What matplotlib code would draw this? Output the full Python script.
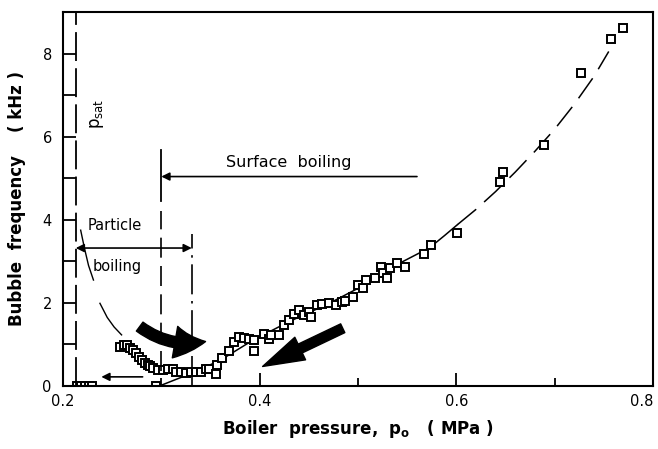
import matplotlib.pyplot as plt
from matplotlib.patches import FancyArrowPatch

# data
pressure = [0.214, 0.218, 0.222, 0.226, 0.230, 0.295,
            0.258, 0.262, 0.265, 0.268, 0.271, 0.274, 0.277, 0.280, 0.283, 0.286,
            0.289, 0.292, 0.297, 0.302, 0.307, 0.312, 0.315, 0.320, 0.325, 0.330,
            0.335, 0.340, 0.345, 0.349, 0.356, 0.357, 0.362, 0.369, 0.374, 0.379,
            0.384, 0.389, 0.394, 0.394, 0.404, 0.410, 0.412, 0.420, 0.425, 0.430,
            0.435, 0.440, 0.445, 0.450, 0.452, 0.458, 0.463, 0.471, 0.478, 0.484,
            0.487, 0.495, 0.500, 0.505, 0.508, 0.517, 0.523, 0.525, 0.530, 0.533,
            0.540, 0.548, 0.567, 0.574, 0.601, 0.644, 0.647, 0.689, 0.727, 0.757,
            0.769]
frequency = [0, 0, 0, 0, 0, 0,
             0.94, 0.99, 0.98, 0.92, 0.86, 0.79, 0.70, 0.63, 0.56, 0.51,
             0.47, 0.44, 0.38, 0.38, 0.40, 0.42, 0.34, 0.34, 0.32, 0.34,
             0.34, 0.34, 0.40, 0.42, 0.30, 0.51, 0.67, 0.84, 1.07, 1.19,
             1.15, 1.13, 1.10, 0.84, 1.26, 1.14, 1.22, 1.22, 1.46, 1.58,
             1.74, 1.82, 1.70, 1.78, 1.66, 1.94, 1.98, 2.00, 1.95, 2.03,
             2.05, 2.15, 2.43, 2.35, 2.55, 2.59, 2.87, 2.71, 2.59, 2.83,
             2.95, 2.87, 3.17, 3.40, 3.68, 4.92, 5.16, 5.81, 7.52, 8.36,
             8.62]

# fitted curve (solid part, then dashed part)
fit_p = [0.298, 0.33, 0.36, 0.393, 0.43, 0.47, 0.50, 0.546, 0.573, 0.588, 0.601]
fit_f = [0.0, 0.30, 0.62, 1.10, 1.55, 1.98, 2.35, 3.00, 3.33, 3.62, 3.88]
ext_p = [0.601, 0.62, 0.64, 0.66, 0.68, 0.70, 0.72, 0.74, 0.755]
ext_f = [3.88, 4.25, 4.68, 5.15, 5.65, 6.18, 6.78, 7.45, 8.05]

# particle boiling branch curve (two dashes)
part_p = [0.218, 0.222, 0.226, 0.231, None, 0.2376, 0.245, 0.252, 0.2596]
part_f = [3.75, 3.30, 2.90, 2.55, None, 1.99, 1.65, 1.42, 1.23]

p_sat = 0.213
p_surface = 0.300
p_particle = 0.331

fig = plt.figure(figsize=(6.58, 4.49), dpi=100)
ax = fig.add_axes([0.0957, 0.1403, 0.8967, 0.833])

ax.plot(fit_p, fit_f, color='black', lw=1.1)
ax.plot(ext_p, ext_f, color='black', lw=1.1, dashes=(16, 7))
ax.plot(part_p, part_f, color='black', lw=1.0)

ax.plot(pressure, frequency, 's', ms=6, mfc='white', mec='black', mew=1.4)

# vertical markers
ax.plot([p_sat, p_sat], [0, 9], color='black', lw=1.3, dashes=(16, 4))
ax.plot([p_surface, p_surface], [4.44, 5.69], color='black', lw=1.3)
ax.plot([p_surface, p_surface], [0.35, 4.2], color='black', lw=1.2, dashes=(12, 5))
ax.plot([p_particle, p_particle], [0, 3.65], color='black', lw=1.2,
        dashes=(18, 4, 1.5, 4))

# horizontal arrows
ax.annotate('', xy=(p_sat, 3.32), xytext=(p_particle, 3.32),
            arrowprops=dict(arrowstyle='<|-|>', color='black', lw=1.2,
                            mutation_scale=12, shrinkA=0, shrinkB=0))
ax.annotate('', xy=(p_surface, 5.04), xytext=(0.560, 5.04),
            arrowprops=dict(arrowstyle='-|>', color='black', lw=1.2,
                            mutation_scale=12, shrinkA=0, shrinkB=0))
ax.annotate('', xy=(0.239, 0.22), xytext=(0.281, 0.22),
            arrowprops=dict(arrowstyle='-|>', color='black', lw=1.2,
                            mutation_scale=12, shrinkA=0, shrinkB=0))

# thick arrows
ax.add_patch(FancyArrowPatch((0.278, 1.43), (0.345, 1.07),
                             connectionstyle='arc3,rad=0.22',
                             arrowstyle='simple,head_length=1.1,head_width=1.15,tail_width=0.4',
                             mutation_scale=20, color='black', shrinkA=0, shrinkB=0))
ax.add_patch(FancyArrowPatch((0.4845, 1.39), (0.403, 0.47),
                             arrowstyle='simple,head_length=1.5,head_width=0.9,tail_width=0.35',
                             mutation_scale=20, color='black', shrinkA=0, shrinkB=0))

ax.text(0.43, 5.37, 'Surface  boiling', fontsize=11.5, ha='center', va='center')
ax.text(0.2255, 3.86, 'Particle', fontsize=10.5, ha='left', va='center')
ax.text(0.230, 2.87, 'boiling', fontsize=10.5, ha='left', va='center')
ax.text(0.2345, 6.55, r'p$_{\rm sat}$', fontsize=12, rotation=90, ha='center', va='center')

ax.set_xlim(0.2, 0.8)
ax.set_ylim(0, 9)
ax.set_xticks([0.2, 0.4, 0.6, 0.8])
ax.set_xticklabels(['0.2', '0.4', '0.6', '0.8'])
ax.set_xticks([0.3, 0.5, 0.7], minor=True)
ax.set_yticks([0, 2, 4, 6, 8])
ax.set_yticks([1, 3, 5, 7], minor=True)
ax.tick_params(which='both', direction='in', width=1.3, labelsize=10.5, top=False, right=False)
ax.tick_params(axis='x', which='major', length=9.5, pad=6)
ax.tick_params(axis='x', which='minor', length=6)
ax.tick_params(axis='y', which='both', length=9, pad=8)
ax.get_xticklabels()[-1].set_horizontalalignment('right')
for s in ax.spines.values():
    s.set_linewidth(1.5)

ax.set_xlabel(r'Boiler  pressure,  $\mathbf{p_o}$   ( MPa )', fontsize=12,
              fontweight='bold', labelpad=6)
ax.set_ylabel('Bubble  frequency    ( kHz )', fontsize=12, fontweight='bold', labelpad=12)

fig.savefig('out.png', dpi=100)
